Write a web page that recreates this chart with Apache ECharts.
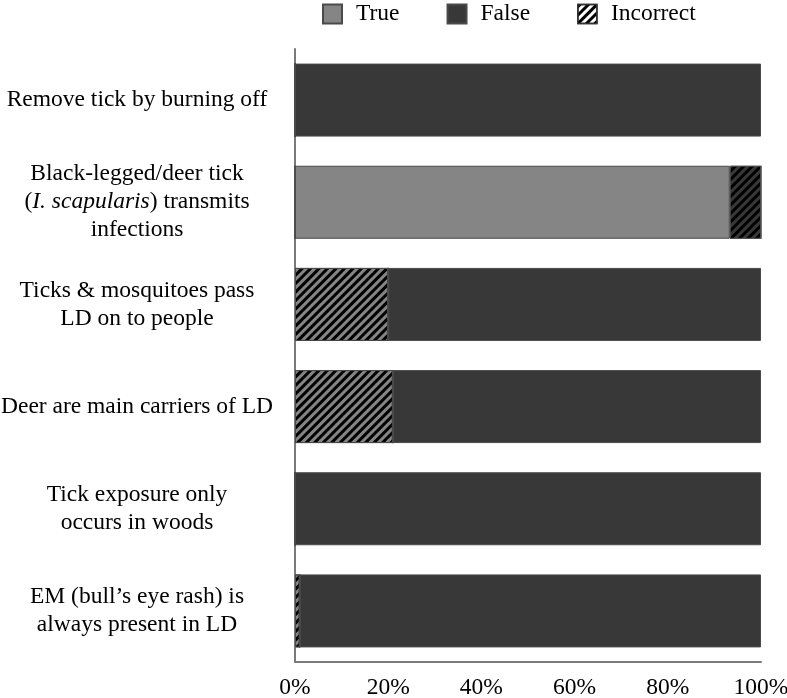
<!DOCTYPE html>
<html>
<head>
<meta charset="utf-8">
<script src="https://cdn.jsdelivr.net/npm/echarts@6/dist/echarts.min.js"></script>
<style>
  html, body { margin: 0; padding: 0; background: #fff; }
  #chart { width: 787px; height: 698px; }
</style>
</head>
<body>
<div id="chart"></div>
<script>
// statements shown on the y axis (top to bottom)
var categories = [
    'Remove tick by burning off',
    'Black-legged/deer tick\n(I. scapularis) transmits\ninfections',
    'Ticks & mosquitoes pass\nLD on to people',
    'Deer are main carriers of LD',
    'Tick exposure only\noccurs in woods',
    'EM (bull\u2019s eye rash) is\nalways present in LD'
];

// percent of answers
var trueVals = [0, 93.3, 0, 0, 0, 0];
var falseVals = [100, 0, 80, 79, 100, 99];
var incorrectTrue = [0, 0, 20, 21, 0, 1];   // answered "true" wrongly (hatched grey)
var incorrectFalse = [0, 6.7, 0, 0, 0, 0];  // answered "false" wrongly (hatched dark)

var xTicks = [0, 20, 40, 60, 80, 100];

var FONT = 'Liberation Serif';
var FS = 23.5;
var GREY = '#858585';
var DARK = '#383838';

var hatch = {
    symbol: 'rect',
    color: '#000',
    dashArrayX: [1, 0],
    dashArrayY: [3, 3],
    rotation: -Math.PI / 4
};

var myChart = echarts.init(document.getElementById('chart'));

function barSeries(name, data, color, decal) {
    var style = { color: color, borderColor: '#4a4a4a', borderWidth: 1 };
    if (decal) style.decal = decal;
    return {
        name: name,
        type: 'bar',
        stack: 'all',
        barWidth: 73,
        data: data,
        itemStyle: style,
        emphasis: { disabled: true }
    };
}

var option = {
    animation: false,
    backgroundColor: '#fff',
    textStyle: { fontFamily: FONT },
    legend: {
        left: 317,
        top: -3,
        icon: 'rect',
        itemWidth: 19,
        itemHeight: 19,
        itemGap: 47,
        textStyle: { fontFamily: FONT, fontSize: FS, color: '#000', padding: [0, 0, 0, 9] },
        data: [
            { name: 'True' },
            { name: 'False' },
            { name: 'Incorrect', itemStyle: { color: '#fff', borderColor: '#333', borderWidth: 1.5, decal: hatch } }
        ]
    },
    grid: { left: 295, right: 26, top: 49, bottom: 36, outerBoundsMode: 'none' },
    xAxis: {
        type: 'value',
        min: xTicks[0],
        max: xTicks[xTicks.length - 1],
        interval: 20,
        splitLine: { show: false },
        axisTick: { show: false },
        axisLine: { show: true, lineStyle: { color: '#7a7a7a', width: 2 } },
        axisLabel: {
            formatter: '{value}%',
            fontFamily: FONT,
            fontSize: FS,
            color: '#000',
            margin: 14
        }
    },
    yAxis: {
        type: 'category',
        inverse: true,
        data: categories,
        axisTick: { show: false },
        axisLine: { show: true, lineStyle: { color: '#7a7a7a', width: 2 } },
        axisLabel: {
            align: 'center',
            margin: 158,
            fontFamily: FONT,
            fontSize: FS,
            lineHeight: 28,
            color: '#000',
            formatter: function (v) {
                return v.replace('I. scapularis', '{i|I. scapularis}');
            },
            rich: {
                i: { fontFamily: FONT, fontSize: FS, lineHeight: 28, fontStyle: 'italic', color: '#000' }
            }
        }
    },
    series: [
        barSeries('Incorrect', incorrectTrue, GREY, hatch),
        barSeries('True', trueVals, GREY),
        barSeries('Incorrect', incorrectFalse, DARK, hatch),
        barSeries('False', falseVals, DARK)
    ]
};

myChart.setOption(option);
</script>
</body>
</html>
